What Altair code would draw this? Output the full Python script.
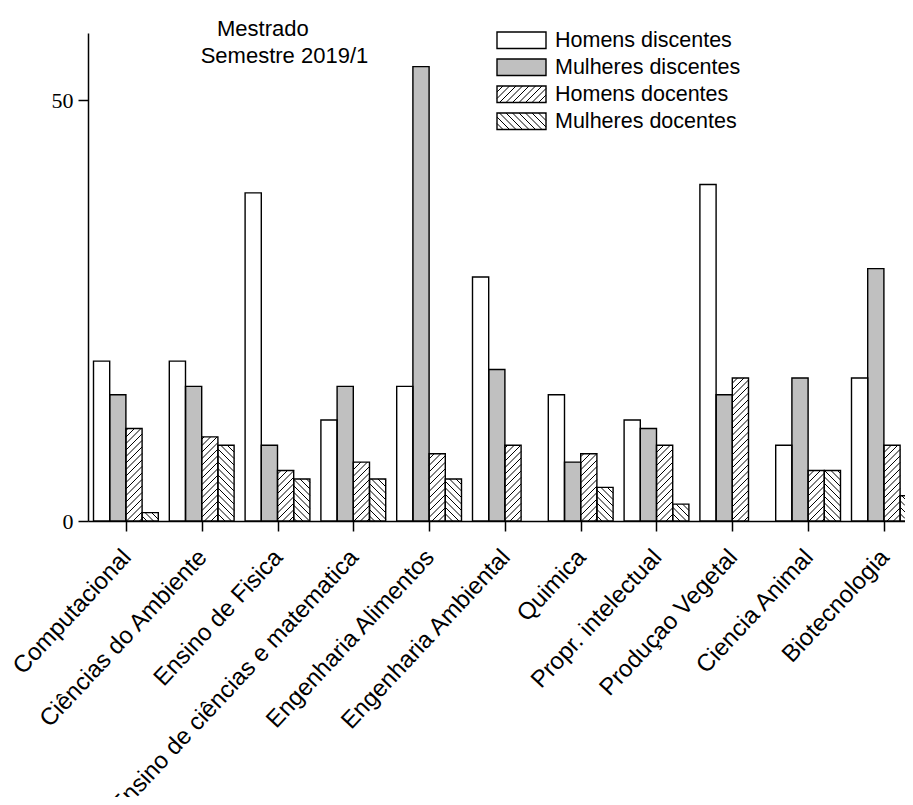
import json
import math
import altair as alt
import pandas as pd

# ---------------- data ----------------
programas = [
    "Computacional", "Ciências do Ambiente", "Ensino de Fisica",
    "Ensino de ciências e matematica", "Engenharia Alimentos",
    "Engenharia Ambiental", "Quimica", "Propr. intelectual",
    "Produçao Vegetal", "Ciencia Animal", "Biotecnologia",
]
series = ["Homens discentes", "Mulheres discentes", "Homens docentes", "Mulheres docentes"]
homens_discentes = [19, 19, 39, 12, 16, 29, 15, 12, 40, 9, 17]
mulheres_discentes = [15, 16, 9, 16, 54, 18, 7, 11, 15, 17, 30]
homens_docentes = [11, 10, 6, 7, 8, 9, 8, 9, 17, 6, 9]
mulheres_docentes = [1, 9, 5, 5, 5, 0, 4, 2, 0, 6, 3]
titulo = ["Mestrado", "Semestre 2019/1"]
y_ticks = [0, 50]

# ---------------- layout ----------------
W, H = 817, 488
YMAX = 58
STEP = 75.8           # px per group
X0 = -0.5
XMAX = X0 + W / STEP
BAR_PX = 16.2
BW = BAR_PX / STEP
HATCH = 6.5
FILLS = ["#ffffff", "#c0c0c0", "#ffffff", "#ffffff"]
HATCH_DIR = [0, 0, 1, -1]


def px_to_x(px):
    return X0 + px / STEP


def py_to_y(py):
    return (H - py) / H * YMAX


valores = [homens_discentes, mulheres_discentes, homens_docentes, mulheres_docentes]
rows = []
for i, p in enumerate(programas):
    for j, s in enumerate(series):
        rows.append(dict(programa=p, idx=i, serie=s, sidx=j, valor=valores[j][i]))
df = pd.DataFrame(rows)


def hatch_segments(xl, xr, yt, yb, direction):
    segs = []
    if direction > 0:
        cmin, cmax = xl + yt, xr + yb
    else:
        cmin, cmax = yt - xr, yb - xl
    for k in range(math.floor(cmin / HATCH) - 1, math.ceil(cmax / HATCH) + 2):
        c = k * HATCH
        if direction > 0:
            xa, xb = max(xl, c - yb), min(xr, c - yt)
            if xb - xa > 0.4:
                segs.append((xa, -xa + c, xb, -xb + c))
        else:
            xa, xb = max(xl, yt - c), min(xr, yb - c)
            if xb - xa > 0.4:
                segs.append((xa, xa + c, xb, xb + c))
    return segs


hatch_rows = []
for r in rows:
    d = HATCH_DIR[r["sidx"]]
    if d == 0 or r["valor"] <= 0:
        continue
    xl = (r["idx"] + (r["sidx"] - 2) * BW - X0) * STEP
    xr = min(xl + BAR_PX, W)
    if xr - xl < 1:
        continue
    yt = H - r["valor"] / YMAX * H
    for (xa, ya, xb, yb) in hatch_segments(xl, xr, yt, H, d):
        hatch_rows.append(dict(x=px_to_x(xa), y=py_to_y(ya), x2=px_to_x(xb), y2=py_to_y(yb)))

# legend (pixel layout relative to plot origin)
LEG_X, LEG_W, LEG_Y0, LEG_STEP, LEG_H, LEG_TX = 409, 49, -1, 27, 16.5, 467
leg_rows, leg_hatch = [], []
for k, s in enumerate(series):
    top = LEG_Y0 + k * LEG_STEP
    leg_rows.append(dict(serie=s, x=px_to_x(LEG_X), x2=px_to_x(LEG_X + LEG_W),
                         y=py_to_y(top), y2=py_to_y(top + LEG_H),
                         tx=px_to_x(LEG_TX), ty=py_to_y(top + LEG_H / 2 + 1)))
    d = HATCH_DIR[k]
    if d:
        for (xa, ya, xb, yb) in hatch_segments(LEG_X, LEG_X + LEG_W, top, top + LEG_H, d):
            leg_hatch.append(dict(x=px_to_x(xa), y=py_to_y(ya), x2=px_to_x(xb), y2=py_to_y(yb)))
leg_df = pd.DataFrame(leg_rows)

title_df = pd.DataFrame({
    "t": titulo,
    "x": [px_to_x(129), px_to_x(112.7)],
    "y": [py_to_y(3), py_to_y(30.3)],
})

# ---------------- chart ----------------
xs = alt.Scale(domain=[X0, XMAX], nice=False, zero=False)
ys = alt.Scale(domain=[0, YMAX], nice=False, zero=True)
fill_scale = alt.Scale(domain=series, range=FILLS)

label_expr = json.dumps(programas, ensure_ascii=False) + "[round(datum.value)]"

XAXIS = alt.Axis(
    values=list(range(len(programas))), labelExpr=label_expr, title=None,
    labelAngle=313, labelAlign="right", labelBaseline="top", labelPadding=14,
    labelOffset=-8, labelLimit=0,
    labelFont="Liberation Sans", labelFontSize=24, labelColor="black",
    labelOverlap=False, labelFlush=False, labelBound=False,
    tickSize=10, tickColor="black", tickWidth=1.5,
    domainColor="black", domainWidth=1.5, grid=False)
YAXIS = alt.Axis(
    values=y_ticks, title=None, labelFont="Liberation Serif", labelFontSize=22,
    labelColor="black", labelPadding=5, tickSize=10, tickColor="black",
    tickWidth=1.5, domainColor="black", domainWidth=1.5, grid=False)


def X(field):
    return alt.X(field, scale=xs, axis=XAXIS, title=None)


def Y(field):
    return alt.Y(field, scale=ys, axis=YAXIS, title=None)


base = alt.Chart(df).transform_filter("datum.valor > 0").transform_calculate(
    x0=f"datum.idx + (datum.sidx - 2) * {BW}",
    x1=f"datum.idx + (datum.sidx - 1) * {BW}",
)

bars = base.mark_bar(clip=True, strokeWidth=0).encode(
    x=X("x0:Q"), x2="x1:Q",
    y=Y("valor:Q"), y2=alt.datum(0),
    fill=alt.Fill("serie:N", scale=fill_scale, legend=None),
)

hatch = alt.Chart(pd.DataFrame(hatch_rows)).mark_rule(color="black", strokeWidth=1, clip=True).encode(
    x=X("x:Q"), x2="x2:Q", y=Y("y:Q"), y2="y2:Q",
)

outline = base.mark_bar(clip=True, fillOpacity=0, stroke="black", strokeWidth=1.4).encode(
    x=X("x0:Q"), x2="x1:Q", y=Y("valor:Q"), y2=alt.datum(0),
)

leg_box = alt.Chart(leg_df).mark_rect(strokeWidth=0).encode(
    x=X("x:Q"), x2="x2:Q", y=Y("y:Q"), y2="y2:Q",
    fill=alt.Fill("serie:N", scale=fill_scale, legend=None),
)
leg_hatch_layer = alt.Chart(pd.DataFrame(leg_hatch)).mark_rule(color="black", strokeWidth=1).encode(
    x=X("x:Q"), x2="x2:Q", y=Y("y:Q"), y2="y2:Q",
)
leg_box_outline = alt.Chart(leg_df).mark_rect(stroke="black", strokeWidth=1.4, fillOpacity=0).encode(
    x=X("x:Q"), x2="x2:Q", y=Y("y:Q"), y2="y2:Q",
)
leg_text = alt.Chart(leg_df).mark_text(
    align="left", baseline="middle", font="Liberation Sans", fontSize=21.5, color="black"
).encode(
    x=X("tx:Q"), y=Y("ty:Q"), text="serie:N",
)
title_text = alt.Chart(title_df).mark_text(
    align="left", baseline="alphabetic", font="Liberation Sans", fontSize=22, color="black"
).encode(
    x=X("x:Q"), y=Y("y:Q"), text="t:N",
)

chart = alt.layer(
    bars, hatch, outline, leg_box, leg_hatch_layer, leg_box_outline, leg_text, title_text
).properties(
    width=W, height=H,
    autosize=alt.AutoSizeParams(type="none"),
    padding={"left": 80, "top": 25, "right": 0, "bottom": 276},
    background="white",
).configure_view(stroke=None)

chart.save("out.html", embed_options={"renderer": "svg", "actions": False})
